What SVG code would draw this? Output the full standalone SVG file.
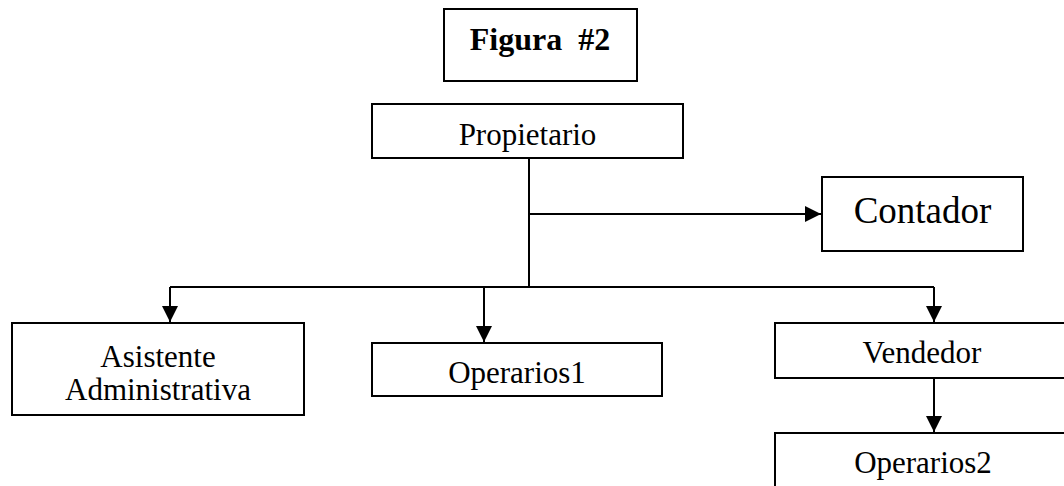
<svg xmlns="http://www.w3.org/2000/svg" width="1064" height="486" viewBox="0 0 1064 486">
  <style>
    .box { fill: #ffffff; stroke: #000000; stroke-width: 2; }
    .lbl { font-family: "Liberation Serif", "Times New Roman", serif; font-size: 31px; fill: #000000; text-anchor: middle; }
    .big { font-size: 37px; }
    .bold { font-weight: bold; font-size: 32px; white-space: pre; }
    .wire { fill: none; stroke: #000000; stroke-width: 2; }
  </style>
  <defs>
    <marker id="arrow" viewBox="0 0 16 16" refX="16" refY="8" markerWidth="16" markerHeight="16" markerUnits="userSpaceOnUse" orient="auto">
      <path d="M0,0 L16,8 L0,16 Z" fill="#000000"/>
    </marker>
  </defs>

  <!-- title -->
  <g id="titulo">
    <rect class="box" x="444" y="9" width="193" height="72"/>
    <text class="lbl bold" x="540" y="50" xml:space="preserve">Figura  #2</text>
  </g>

  <g id="propietario">
    <rect class="box" x="372" y="104" width="311" height="54"/>
    <text class="lbl" x="527.5" y="145">Propietario</text>
  </g>

  <g id="contador">
    <rect class="box" x="822" y="177" width="201" height="74"/>
    <text class="lbl big" x="922.5" y="223">Contador</text>
  </g>

  <g id="asistente">
    <rect class="box" x="12" y="323" width="292" height="92"/>
    <text class="lbl" x="158" y="367">Asistente</text>
    <text class="lbl" x="158" y="400">Administrativa</text>
  </g>

  <g id="operarios1">
    <rect class="box" x="372" y="343" width="290" height="53"/>
    <text class="lbl" x="517" y="383">Operarios1</text>
  </g>

  <g id="vendedor">
    <rect class="box" x="775" y="323" width="295" height="55"/>
    <text class="lbl" x="922" y="363">Vendedor</text>
  </g>

  <g id="operarios2">
    <rect class="box" x="775" y="433" width="295" height="60"/>
    <text class="lbl" x="923" y="473">Operarios2</text>
  </g>

  <!-- connectors -->
  <g id="conectores">
    <path class="wire" d="M529,158 V287"/>
    <path class="wire" d="M529,214 H821" marker-end="url(#arrow)"/>
    <path class="wire" d="M170,287 H934"/>
    <path class="wire" d="M170,287 V322" marker-end="url(#arrow)"/>
    <path class="wire" d="M484,287 V342" marker-end="url(#arrow)"/>
    <path class="wire" d="M934,287 V322" marker-end="url(#arrow)"/>
    <path class="wire" d="M934,378 V432" marker-end="url(#arrow)"/>
  </g>
</svg>
